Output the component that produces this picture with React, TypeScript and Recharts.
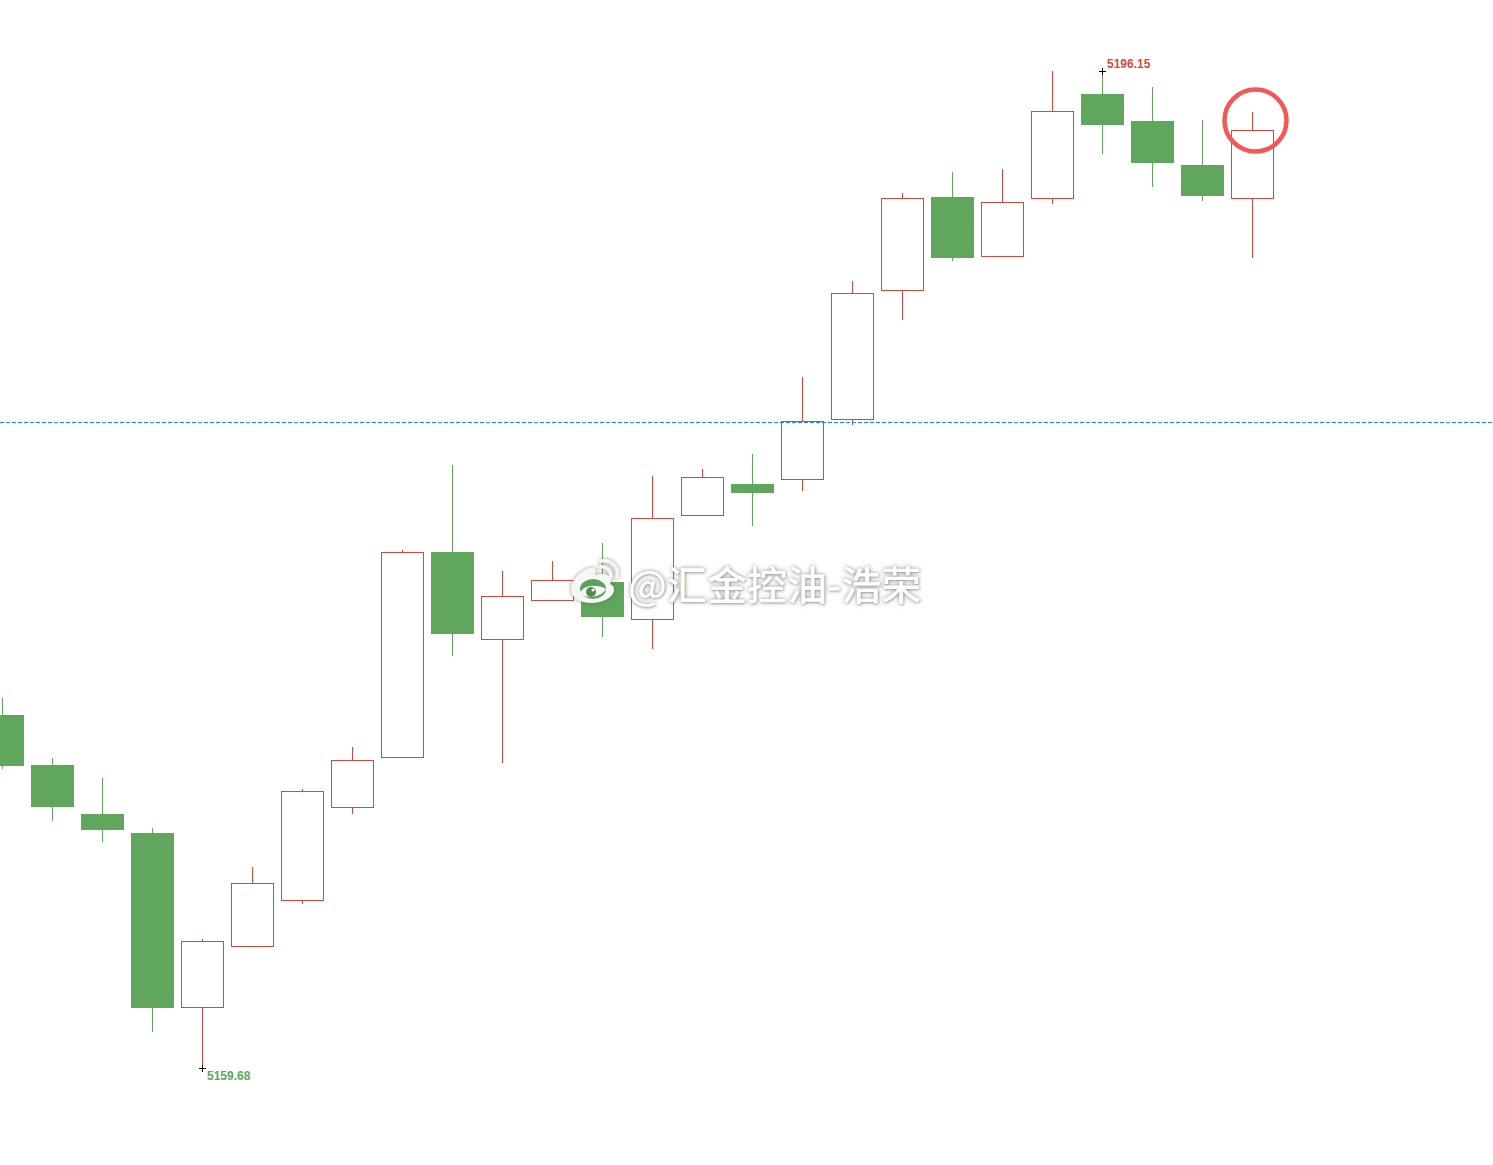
import { Bar, ComposedChart, ReferenceDot, ReferenceLine, XAxis, YAxis } from 'recharts'

const RED = '#d4483f'
const GREEN = '#60a65c'

// prices, oldest candle first
const opens = [5172.59, 5170.76, 5168.97, 5168.28, 5161.91, 5164.14, 5165.83, 5169.23, 5171.06, 5178.56, 5175.37, 5176.80, 5177.46, 5176.10, 5179.91, 5181.04, 5181.23, 5183.42, 5188.14, 5191.54, 5189.38, 5191.50, 5195.31, 5194.32, 5192.71, 5191.50]
const closes = [5170.73, 5169.23, 5168.39, 5161.87, 5164.33, 5166.45, 5169.81, 5170.95, 5178.56, 5175.56, 5176.95, 5177.53, 5176.18, 5179.80, 5181.30, 5180.71, 5183.35, 5188.03, 5191.50, 5189.31, 5191.36, 5194.69, 5194.17, 5192.78, 5191.58, 5193.99]
const highs = [5173.21, 5171.02, 5170.29, 5168.46, 5164.40, 5167.03, 5169.89, 5171.42, 5178.63, 5181.74, 5177.86, 5178.23, 5178.88, 5181.34, 5181.59, 5182.14, 5184.96, 5188.47, 5191.69, 5192.46, 5192.57, 5196.15, 5196.15, 5195.56, 5194.36, 5194.65]
const lows = [5170.62, 5168.71, 5167.95, 5161.00, 5159.68, 5164.14, 5165.68, 5168.97, 5171.06, 5174.75, 5170.84, 5176.76, 5175.45, 5175.01, 5179.91, 5179.51, 5180.79, 5183.20, 5187.04, 5189.20, 5189.38, 5191.28, 5193.11, 5191.91, 5191.39, 5189.31]

const currentPrice = 5183.29
const highestIndex = 22
const lowestIndex = 4
const markedIndex = 25.06
const markedPrice = 5194.34

const candles = opens.map((open, i) => ({
  index: i,
  open,
  close: closes[i],
  high: highs[i],
  low: lows[i],
}))

const xDomain = [-0.05, 29.81]
const yDomain = [5156.13, 5198.747]

// snap a bar box to whole pixels, falling candles come in with a negative height
function snap(props: any) {
  const top = Math.round(Math.min(props.y, props.y + props.height))
  const bottom = Math.round(Math.max(props.y, props.y + props.height))
  return { left: Math.round(props.x + 0.25), top, height: bottom - top }
}

function Wick(props: any) {
  const { left, top, height } = snap(props)
  const color = props.payload.close > props.payload.open ? RED : GREEN
  return <rect x={left} y={top} width={1} height={height} fill={color} />
}

function Body(props: any) {
  const { left, top, height } = snap(props)
  if (props.payload.close > props.payload.open) {
    return <rect x={left + 0.5} y={top + 0.5} width={props.width - 1} height={height} fill="#ffffff" stroke={RED} strokeWidth={1} />
  }
  return <rect x={left} y={top} width={props.width} height={height} fill={GREEN} />
}

function extreme(color: string, text: string, dx: number, dy: number) {
  return (props: any) => {
    const cx = Math.round(props.cx) - 1
    const cy = Math.round(props.cy)
    return (
      <g>
        <path d={`M${cx - 3} ${cy + 0.5}H${cx + 4}M${cx + 0.5} ${cy - 3}V${cy + 4}`} stroke="#000" strokeWidth={1} />
        <text x={cx + dx} y={cy + dy} fontFamily="Liberation Sans" fontSize={12} fontWeight="bold" fill={color}>
          {text}
        </text>
      </g>
    )
  }
}

function Watermark() {
  return (
    <div style={{ position: 'absolute', left: 568, top: 556, width: 370, height: 56, pointerEvents: 'none' }}>
      <svg width={60} height={50} style={{ position: 'absolute', left: 0, top: 0, filter: 'drop-shadow(0 0 2px rgba(80,80,80,0.6))' }}>
        <path d="M3 33c0-9 10-19 19-21 5-1 7 2 5 7 7-2 14-1 16 3 1 2 0 4-1 6 3 1 4 3 4 6 0 7-11 13-23 13C12 47 3 42 3 33z" fill="#f6f6f2" />
        <ellipse cx={25} cy={33} rx={13} ry={10} fill="#5aa05c" />
        <path d="M12 37c2-7 16-10 26-4-4 8-20 11-26 4z" fill="#f6f6f2" />
        <circle cx={23} cy={36} r={5} fill="#4a8f52" />
        <circle cx={25} cy={34} r={1.5} fill="#fff" />
        <path d="M32 11c6-1 11 3 11 10M33 5c10-2 18 6 16 16" fill="none" stroke="#f6f6f2" strokeWidth={3.5} strokeLinecap="round" />
      </svg>
      <div
        style={{
          position: 'absolute',
          left: 60,
          top: 1,
          whiteSpace: 'nowrap',
          fontFamily: '"Noto Sans CJK SC"',
          fontSize: 40,
          fontWeight: 500,
          lineHeight: '52px',
          color: '#ffffff',
          textShadow: '0 0 4px rgba(110,110,110,0.75), 1px 1px 2px rgba(120,120,120,0.4)',
        }}
      >
        @汇金控油-浩荣
      </div>
    </div>
  )
}

export default function App() {
  return (
    <div style={{ position: 'absolute', left: 0, top: 0, width: 1493, height: 1165, background: '#ffffff', overflow: 'hidden' }}>
      <ComposedChart width={1493} height={1165} data={candles} margin={{ top: 0, right: 0, bottom: 0, left: 0 }}>
        <XAxis xAxisId="wick" type="number" dataKey="index" domain={xDomain} allowDataOverflow hide />
        <XAxis xAxisId="body" type="number" dataKey="index" domain={xDomain} allowDataOverflow hide />
        <YAxis type="number" domain={yDomain} allowDataOverflow hide />
        <Bar xAxisId="wick" dataKey={(d: any) => [d.low, d.high]} barSize={1} shape={Wick} isAnimationActive={false} />
        <Bar xAxisId="body" dataKey={(d: any) => [d.open, d.close]} barSize={43} shape={Body} isAnimationActive={false} />
        <ReferenceLine xAxisId="wick" y={currentPrice} stroke="#0a84f0" strokeWidth={1} strokeDasharray="4 2" />
        <ReferenceDot xAxisId="wick" x={highestIndex} y={highs[highestIndex]} r={3} shape={extreme(RED, '5196.15', 5, -3)} />
        <ReferenceDot xAxisId="wick" x={lowestIndex} y={lows[lowestIndex]} r={3} shape={extreme(GREEN, '5159.68', 5, 12)} />
        <ReferenceDot xAxisId="wick" x={markedIndex} y={markedPrice} r={31} fill="none" stroke="#f55656" strokeWidth={4.5} />
      </ComposedChart>
      <Watermark />
    </div>
  )
}
